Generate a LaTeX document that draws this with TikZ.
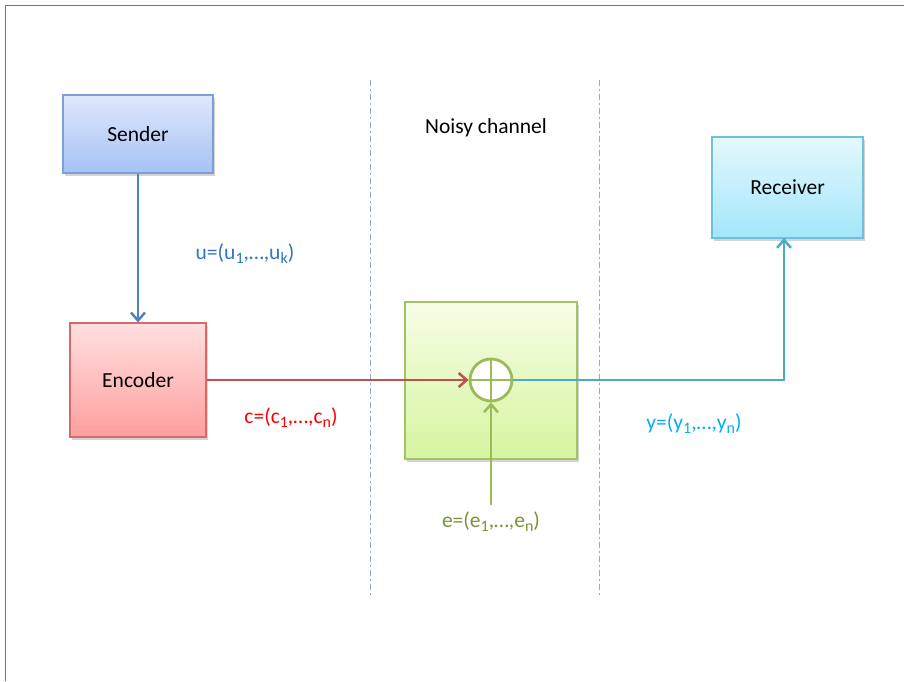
\documentclass[tikz,border=0pt]{standalone}
\usepackage{fontspec}
\setmainfont{Carlito}
\usepackage{tikz}
\usetikzlibrary{arrows.meta,shadows,positioning}

\definecolor{frameCol}{RGB}{128,100,175}
\definecolor{sepCol}{RGB}{140,170,215}
\definecolor{senderLine}{RGB}{123,160,216}
\definecolor{encLine}{RGB}{212,106,106}
\definecolor{chanLine}{RGB}{160,195,100}
\definecolor{recLine}{RGB}{111,192,216}
\definecolor{blueArr}{RGB}{79,129,189}
\definecolor{redArr}{RGB}{192,80,77}
\definecolor{cyanArr}{RGB}{75,172,198}
\definecolor{greenArr}{RGB}{155,187,89}
\definecolor{uText}{RGB}{46,117,195}
\definecolor{cText}{RGB}{255,0,0}
\definecolor{yText}{RGB}{0,176,240}
\definecolor{eText}{RGB}{119,147,60}

\newcommand{\sub}[1]{\raisebox{-4pt}{\fontsize{16}{18}\selectfont #1}}

\tikzset{
  box/.style={draw,line width=1.2pt,inner sep=0pt,font=\fontsize{21.5}{25}\selectfont,
    drop shadow={opacity=0.35,shadow xshift=2pt,shadow yshift=-3pt}},
  flow/.style={line width=2.5pt,-{Straight Barb[length=8pt,width=14pt,line width=2.5pt]}},
  lbl/.style={font=\fontsize{21.5}{25}\selectfont,inner sep=0pt},
  sep/.style={sepCol,line width=1pt,dash pattern=on 6pt off 3pt on 2pt off 3pt}
}

\begin{document}
\begin{tikzpicture}[x=1pt,y=-1pt]
\useasboundingbox (0,0) rectangle (904,681);
%Rahmen oben und links
\draw[frameCol,line width=1.5pt] (5.5,681) -- (5.5,5.5) -- (904,5.5);
%Trennlinien
\draw[sep] (370,80) -- (370,595);
\draw[sep] (599,80) -- (599,595);

\node[box,senderLine,top color={rgb,255:red,222;green,232;blue,252},bottom color={rgb,255:red,166;green,193;blue,245},
  minimum width=150,minimum height=78,text=black] (sender) at (138,134) {Sender};
\node[box,encLine,top color={rgb,255:red,255;green,224;blue,224},bottom color={rgb,255:red,255;green,158;blue,158},
  minimum width=136,minimum height=114,text=black] (encoder) at (138,380) {Encoder};
\node[box,chanLine,top color={rgb,255:red,246;green,253;blue,230},bottom color={rgb,255:red,214;green,245;blue,160},
  minimum width=172,minimum height=157] (channel) at (491,380.5) {};
\node[box,recLine,top color={rgb,255:red,228;green,248;blue,254},bottom color={rgb,255:red,163;green,230;blue,250},
  minimum width=151,minimum height=101,text=black] (receiver) at (787.5,187.5) {Receiver};

\node[lbl] (noisy) at (486,128) {Noisy channel};

%Addierer
\node[circle,draw=greenArr,line width=2.8pt,fill=white,minimum size=42,inner sep=0pt] (sum) at (491,380) {};
\draw[greenArr,line width=2.8pt] (sum.north) -- (sum.south) (sum.west) -- (sum.east);

\coordinate (noise) at (491,505);
\coordinate (up) at (784,238);

\draw[flow,blueArr] (sender) -- (encoder);
\draw[flow,redArr] (encoder) -- (sum.west);
\draw[flow,greenArr] (noise) -- (sum.south);
\draw[flow,cyanArr] (sum.east) -- (sum.east -| up) -- (up);

\node[lbl,uText] (ulbl) at (245,254) {u=(u\sub{1},\dots,u\sub{k})};
\node[lbl,cText] (clbl) at (291,418) {c=(c\sub{1},\dots,c\sub{n})};
\node[lbl,yText] (ylbl) at (694,424) {y=(y\sub{1},\dots,y\sub{n})};
\node[lbl,eText] (elbl) at (491,522) {e=(e\sub{1},\dots,e\sub{n})};
\end{tikzpicture}
\end{document}
